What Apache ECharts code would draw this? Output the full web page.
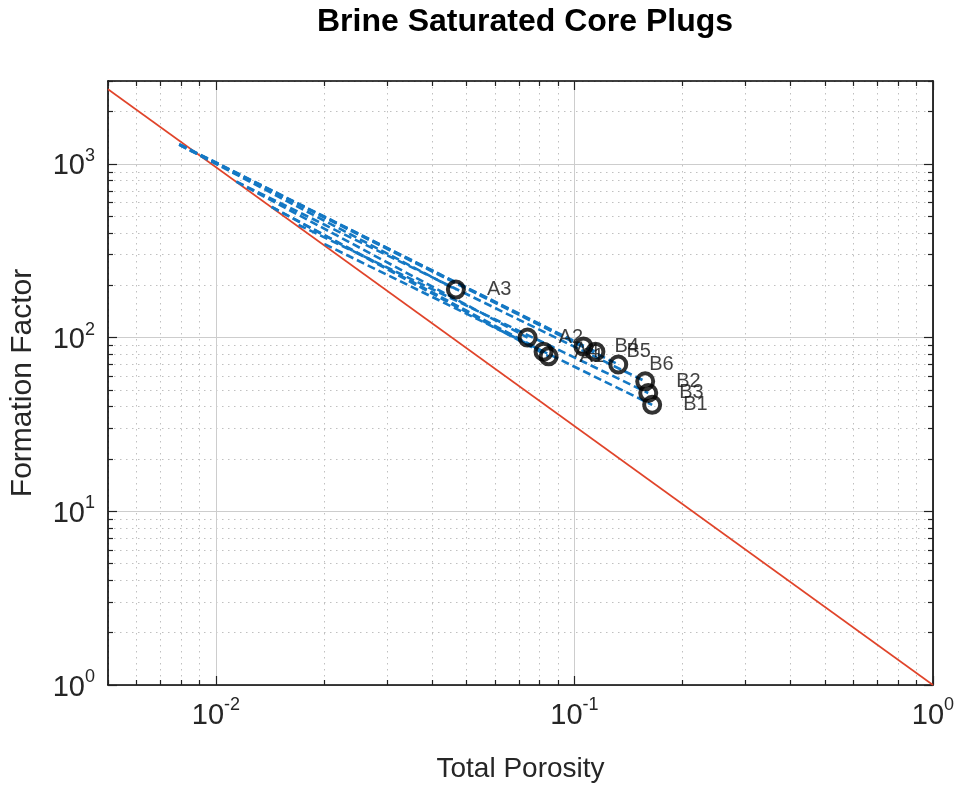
<!DOCTYPE html>
<html><head><meta charset="utf-8">
<script src="https://cdn.jsdelivr.net/npm/echarts@6/dist/echarts.min.js"></script>
<style>html,body{margin:0;padding:0;background:#fff}#c{width:966px;height:788px}</style>
</head><body><div id="c"></div>
<script>
// ---- data ----
const sampleNames     = ['A3', 'A2', 'A4', 'A1', 'B4', 'B5', 'B6', 'B2', 'B3', 'B1'];
const porosity        = [0.0467, 0.0740, 0.0820, 0.0847, 0.1059, 0.1144, 0.1325, 0.1575, 0.1606, 0.1647];
const formationFactor = [189, 100, 83, 78, 89, 83, 70, 56, 48, 41];
// start of each sample's dashed fit line (where it leaves the reference line)
const fitStartPorosity = [0.0079, 0.0114, 0.0143, 0.0143, 0.0079, 0.0079, 0.0079, 0.0114, 0.0170, 0.0201];
const fitStartFactor   = [1290, 790, 565, 565, 1300, 1295, 1285, 790, 445, 345];
const refLinePorosity = [0.005, 1];
const refLineFactor   = [2690, 1];
const xMajorTicks = [0.01, 0.1, 1];
const xMinorTicks = [0.005, 0.006, 0.007, 0.008, 0.009, 0.02, 0.03, 0.04, 0.05, 0.06, 0.07, 0.08, 0.09,
                     0.2, 0.3, 0.4, 0.5, 0.6, 0.7, 0.8, 0.9];
const yMajorTicks = [1, 10, 100, 1000];
const yMinorTicks = [2, 3, 4, 5, 6, 7, 8, 9, 20, 30, 40, 50, 60, 70, 80, 90,
                     200, 300, 400, 500, 600, 700, 800, 900, 2000, 3000];
const xRange = [0.005, 1];
const yRange = [1, 3000];

// ---- chart ----
const FONT = 'Liberation Sans, Arial, Helvetica, sans-serif';
const TXT = '#262626';
function powLabel(v) {
  const e = Math.round(Math.log10(v));
  return '{b|10}{s|' + e + '}';
}
const rich = {
  b: { fontSize: 29, fontFamily: FONT, color: TXT, verticalAlign: 'bottom' },
  s: { fontSize: 18, fontFamily: FONT, color: TXT, verticalAlign: 'bottom', padding: [0, 0, 16, 0] }
};
function axisSet(dim, pos, ticks, major, withLabel, name) {
  const a = {
    type: 'log', logBase: 10, min: (dim === 'x' ? xRange : yRange)[0], max: (dim === 'x' ? xRange : yRange)[1],
    position: pos,
    axisLine: { show: major, onZero: false, lineStyle: { color: '#000', width: 1.6 } },
    axisTick: { show: true, inside: true, length: major ? 9 : 5, customValues: ticks, lineStyle: { color: '#222', width: 1.2 } },
    axisLabel: { show: withLabel, customValues: ticks, formatter: powLabel, rich: rich, margin: dim === 'x' ? 11 : 13, hideOverlap: false },
    splitLine: { show: pos === 'bottom' || pos === 'left',
      lineStyle: major ? { color: '#cdcdcd', width: 1, type: 'solid' } : { color: '#c0c0c0', width: 1, type: [1.5, 4.5] } },
    minorTick: { show: false }, minorSplitLine: { show: false }
  };
  if (name) {
    a.name = name; a.nameLocation = 'middle';
    a.nameGap = dim === 'x' ? 70 : 70;
    a.nameTextStyle = { fontSize: dim === 'x' ? 28 : 30, fontFamily: FONT, color: TXT };
  }
  return a;
}
const xAxes = [
  axisSet('x', 'bottom', xMajorTicks, true, true, 'Total Porosity'),
  axisSet('x', 'bottom', xMinorTicks, false, false),
  axisSet('x', 'top', xMajorTicks, true, false),
  axisSet('x', 'top', xMinorTicks, false, false)
];
const yAxes = [
  axisSet('y', 'left', yMajorTicks, true, true, 'Formation Factor'),
  axisSet('y', 'left', yMinorTicks, false, false),
  axisSet('y', 'right', yMajorTicks, true, false),
  axisSet('y', 'right', yMinorTicks, false, false)
];

const series = [];
series.push({
  type: 'line', name: 'ref', data: refLinePorosity.map((p, i) => [p, refLineFactor[i]]),
  symbol: 'none', lineStyle: { color: '#e0442a', width: 1.6 }, z: 2, silent: true
});
sampleNames.forEach((n, i) => {
  series.push({
    type: 'line', name: 'fit ' + n,
    data: [[fitStartPorosity[i], fitStartFactor[i]], [porosity[i], formationFactor[i]]],
    symbol: 'none', lineStyle: { color: '#1478c4', width: 2.6, type: [8, 4] }, z: 3, silent: true
  });
});
series.push({
  type: 'scatter', name: 'samples',
  data: sampleNames.map((n, i) => ({ name: n, value: [porosity[i], formationFactor[i]] })),
  symbol: 'circle', symbolSize: 16,
  itemStyle: { color: 'rgba(0,0,0,0)', borderColor: '#000', borderWidth: 4 },
  label: { show: true, position: 'right', distance: 21, formatter: '{b}', fontSize: 20, fontFamily: FONT, color: '#111' },
  z: 5, silent: true
});

const chart = echarts.init(document.getElementById('c'), null, { renderer: 'canvas' });
chart.setOption({
  animation: false,
  backgroundColor: '#fff',
  title: { text: 'Brine Saturated Core Plugs', left: 520, top: 1, textAlign: 'center',
    textStyle: { fontSize: 32, fontWeight: 'bold', fontFamily: FONT, color: '#000' } },
  grid: { left: 107, right: 33, top: 81, bottom: 102, containLabel: false },
  xAxis: xAxes,
  yAxis: yAxes,
  series: series
});
</script></body></html>
